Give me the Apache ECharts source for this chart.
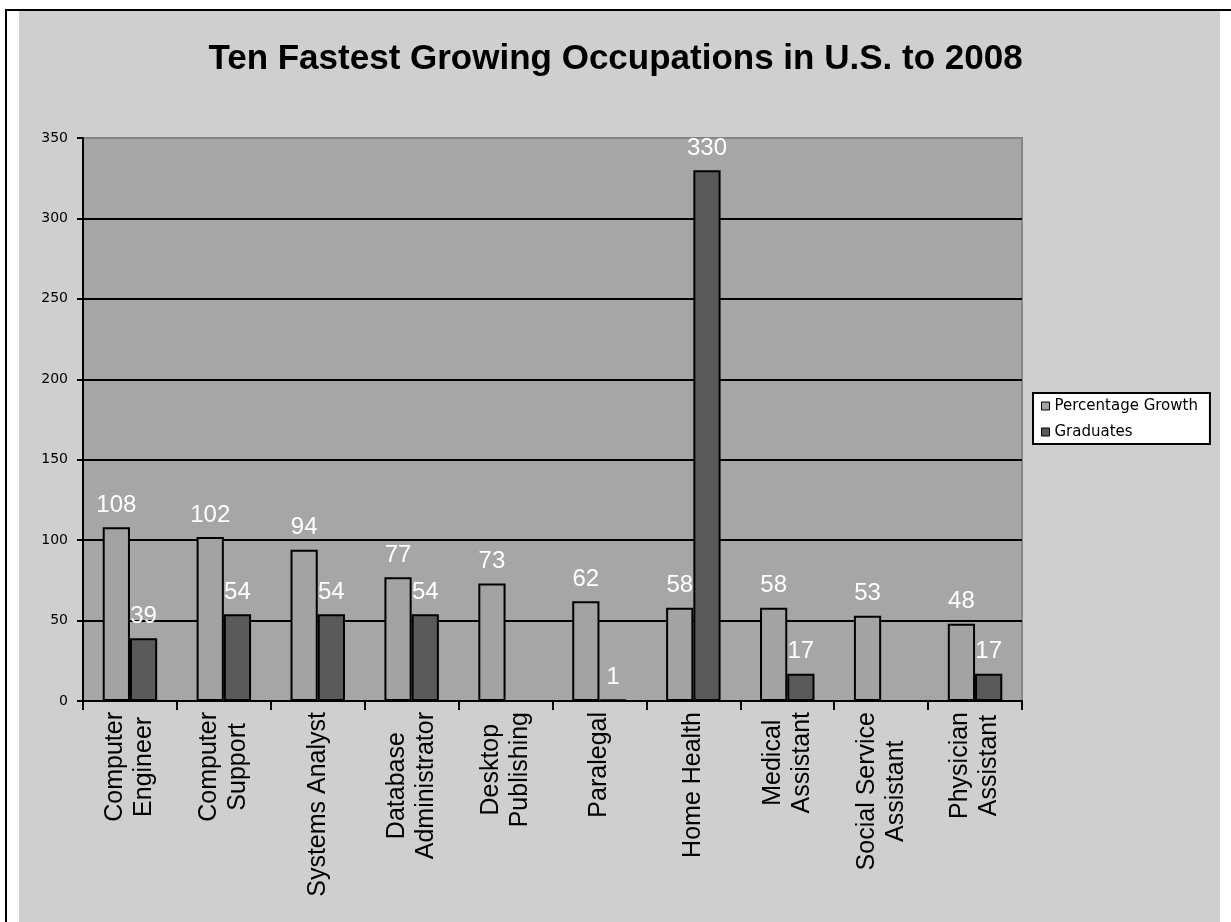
<!DOCTYPE html>
<html>
<head>
<meta charset="utf-8">
<script src="https://cdn.jsdelivr.net/npm/echarts@6/dist/echarts.min.js"></script>
<style>
  html, body { margin: 0; padding: 0; background: #ffffff; }
  #topline { position: absolute; left: 5px; top: 9px; width: 1226px; height: 2px; background: #000; }
  #leftline { position: absolute; left: 5px; top: 9px; width: 2px; height: 913px; background: #000; }
  #panel { position: absolute; left: 19px; top: 11px; width: 1201px; height: 911px; background: #cfcfcf; }
  #chart { position: absolute; left: 0; top: 0; width: 1231px; height: 922px; }
</style>
</head>
<body>
<div id="topline"></div>
<div id="leftline"></div>
<div id="panel"></div>
<div id="chart"></div>
<script>
const titleText = 'Ten Fastest Growing Occupations in U.S. to 2008';
const categories = [
  'Computer\nEngineer', 'Computer\nSupport', 'Systems Analyst', 'Database\nAdministrator',
  'Desktop\nPublishing', 'Paralegal', 'Home Health', 'Medical\nAssistant',
  'Social Service\nAssistant', 'Physician\nAssistant'
];
const seriesNames = ['Percentage Growth', 'Graduates'];
const percentageGrowth = [108, 102, 94, 77, 73, 62, 58, 58, 53, 48];
const graduates = [39, 54, 54, 54, '-', 1, 330, 17, '-', 17];
const yMin = 0, yMax = 350, yInterval = 50;

const chart = echarts.init(document.getElementById('chart'), null, { renderer: 'canvas' });

const labelStyle = {
  show: true,
  position: 'top',
  distance: 10,
  color: '#ffffff',
  fontFamily: 'Liberation Sans',
  fontSize: 24
};

// gridline colours: black inside, plot-border grey at the top edge
const nTicks = Math.round((yMax - yMin) / yInterval) + 1;
const splitColors = [];
for (let i = 0; i < nTicks; i++) splitColors.push(i === nTicks - 1 ? '#858585' : '#000000');

chart.setOption({
  backgroundColor: 'transparent',
  animation: false,
  title: {
    text: titleText,
    left: 'center',
    top: 42,
    padding: 0,
    textStyle: { fontFamily: 'Liberation Sans', fontWeight: 'bold', fontSize: 35, color: '#000' }
  },
  legend: {
    orient: 'vertical',
    left: 1033,
    top: 393,
    padding: [5, 12, 4, 8],
    itemWidth: 8,
    itemHeight: 8,
    itemGap: 10,
    selectedMode: false,
    backgroundColor: '#ffffff',
    borderColor: '#000000',
    borderWidth: 2,
    borderRadius: 0,
    icon: 'rect',
    itemStyle: { borderColor: '#000', borderWidth: 1 },
    textStyle: { fontFamily: 'DejaVu Sans', fontSize: 15, lineHeight: 16, color: '#000' },
    data: seriesNames
  },
  grid: {
    left: 83, top: 138, right: 209, bottom: 221,
    show: true,
    backgroundColor: '#a6a6a6',
    borderColor: '#858585',
    borderWidth: 2
  },
  xAxis: {
    type: 'category',
    data: categories,
    axisLine: { show: true, lineStyle: { color: '#000', width: 2 } },
    axisTick: { show: true, length: 9, lineStyle: { color: '#000', width: 2 } },
    axisLabel: {
      interval: 0,
      rotate: 90,
      margin: 11,
      formatter: function (v) {
        return v.split('\n').map(function (s) { return '{c|' + s + '}'; }).join('\n');
      },
      rich: {
        c: { align: 'center', fontFamily: 'Liberation Sans', fontSize: 25, lineHeight: 29, color: '#000' }
      }
    }
  },
  yAxis: {
    type: 'value',
    min: yMin,
    max: yMax,
    interval: yInterval,
    axisLine: { show: true, lineStyle: { color: '#000', width: 2 } },
    axisTick: { show: true, length: 6, lineStyle: { color: '#000', width: 2 } },
    axisLabel: { margin: 15, fontFamily: 'DejaVu Sans', fontSize: 14, color: '#000' },
    splitLine: { show: true, lineStyle: { color: splitColors, width: 2 } }
  },
  series: [
    {
      name: seriesNames[0],
      type: 'bar',
      data: percentageGrowth,
      barGap: '0%',
      barCategoryGap: '42%',
      itemStyle: { color: '#a3a3a3', borderColor: '#000', borderWidth: 2 },
      label: labelStyle
    },
    {
      name: seriesNames[1],
      type: 'bar',
      data: graduates,
      barGap: '0%',
      barCategoryGap: '42%',
      itemStyle: { color: '#5a5a5a', borderColor: '#000', borderWidth: 2 },
      label: labelStyle
    }
  ]
});
</script>
</body>
</html>
